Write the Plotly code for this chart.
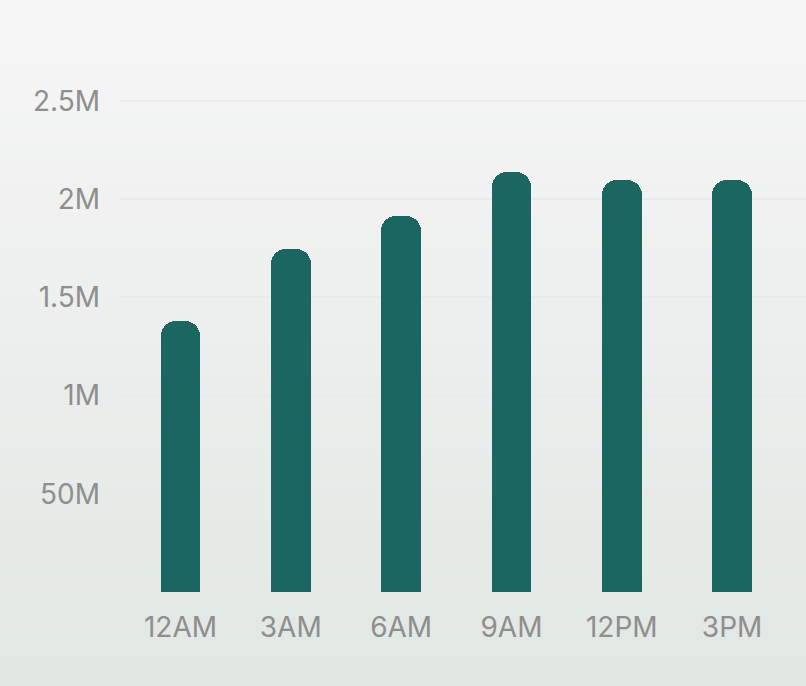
import plotly.graph_objects as go

categories = ["12AM", "3AM", "6AM", "9AM", "12PM", "3PM"]
values = [1.38e6, 1.745e6, 1.915e6, 2.14e6, 2.1e6, 2.1e6]
tick_vals = [0.5e6, 1.0e6, 1.5e6, 2.0e6, 2.5e6]
tick_text = ["50M", "1M", "1.5M", "2M", "2.5M"]

W, H = 806, 686
ML, MR, MT, MB = 120, 0, 42, 94

fig = go.Figure(go.Bar(
    x=categories, y=values,
    marker=dict(color="#1b6661", cornerradius=15, line=dict(width=0)),
    width=0.36,
))

# vertical gradient background via thin strips (paper coords)
plot_h = H - MT - MB
plot_w = W - ML - MR
top_c = (246, 246, 246)
bot_c = (225, 231, 227)
n = 80
shapes = []
y0p = -MB / plot_h
y1p = 1 + MT / plot_h
x0p = -ML / plot_w
x1p = 1 + MR / plot_w + 0.01
for i in range(n):
    t0 = i / n
    t1 = (i + 1) / n
    tm = (t0 + t1) / 2
    c = tuple(round(top_c[k] + (bot_c[k] - top_c[k]) * tm) for k in range(3))
    ya = y1p - (y1p - y0p) * t0
    yb = y1p - (y1p - y0p) * t1
    shapes.append(dict(type="rect", xref="paper", yref="paper", x0=x0p, x1=x1p,
                       y0=yb - 0.002, y1=ya + 0.002, fillcolor="rgb(%d,%d,%d)" % c,
                       line=dict(width=0), layer="below"))

tf = dict(family="Inter, Poppins, sans-serif", size=28, color="#8e8e8e", weight=400)

fig.update_layout(
    width=W, height=H,
    margin=dict(l=ML, r=MR, t=MT, b=MB),
    paper_bgcolor="rgb(246,246,246)",
    plot_bgcolor="rgba(0,0,0,0)",
    shapes=shapes,
    showlegend=False,
    font=tf,
    xaxis=dict(
        range=[-0.548, 5.67], showgrid=False, zeroline=False, showline=False,
        ticks="", ticklabelstandoff=16, tickfont=tf,
    ),
    yaxis=dict(
        range=[0, 2.8e6], tickvals=tick_vals, ticktext=tick_text,
        showgrid=True, gridcolor="rgb(233,235,233)", gridwidth=1.5,
        zeroline=False, showline=False, ticks="", ticklabelstandoff=19,
        tickfont=tf,
    ),
    bargap=0,
)

fig.write_html(
    "out.html",
    config={"displayModeBar": False},
    post_script="document.body.style.margin='0';document.body.style.background='rgb(230,235,231)';",
)
